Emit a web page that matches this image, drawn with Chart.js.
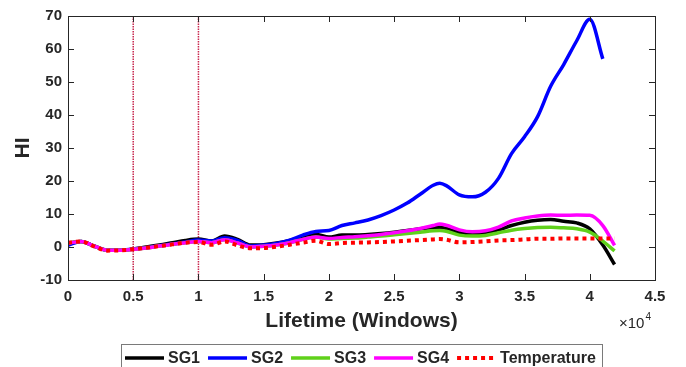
<!DOCTYPE html>
<html>
<head>
<meta charset="utf-8">
<script src="https://cdn.jsdelivr.net/npm/chart.js@4"></script>
<style>
  html, body { margin: 0; padding: 0; background: #fff; }
  canvas { display: block; }
</style>
</head>
<body>
<canvas id="hiChart" width="686" height="367"></canvas>
<script>
// lifetime in windows
const lifetime = [0, 1000, 2000, 3000, 4000, 5000, 6000, 7000, 8000, 9000, 10000, 11000, 12000, 13000, 14000,
  15000, 16000, 17000, 18000, 19000, 20000, 21000, 22000, 23000, 24000, 25000, 26000, 27000, 28000, 28500,
  29000, 30000, 31000, 32000, 33000, 34000, 35000, 36000, 37000, 38000, 39000, 40000, 41000, 41900];

const sg1 = [1.2, 1.7, 0.3, -1.0, -1.0, -0.6, 0.0, 0.6, 1.3, 2.0, 2.4, 1.8, 3.3, 2.3, 0.6,
  0.7, 1.2, 2.0, 3.1, 3.9, 3.0, 3.6, 3.6, 3.8, 4.1, 4.5, 5.0, 5.5, 5.9, 6.0,
  5.6, 4.4, 4.1, 4.4, 5.2, 6.5, 7.5, 8.1, 8.3, 7.8, 7.3, 5.5, 0.6, -5.3];
const sg2 = [0.5, 1.7, 0.3, -1.0, -1.0, -0.6, -0.2, 0.4, 0.9, 1.5, 2.1, 1.8, 2.8, 2.0, 0.3,
  0.6, 1.1, 2.1, 3.6, 4.7, 5.0, 6.5, 7.3, 8.2, 9.5, 11.2, 13.3, 16.0, 18.7, 19.3,
  18.6, 15.8, 15.2, 16.6, 20.8, 28.3, 33.4, 39.5, 48.7, 55.3, 62.5, 69.0, 57.0, null];
const sg3 = [1.2, 1.7, 0.3, -1.0, -1.0, -0.7, -0.3, 0.3, 0.8, 1.3, 1.7, 1.3, 2.2, 1.2, 0.0,
  0.2, 0.6, 1.3, 2.3, 3.0, 2.4, 2.6, 2.7, 3.0, 3.3, 3.7, 4.1, 4.5, 4.9, 5.0,
  4.8, 3.6, 3.3, 3.5, 4.3, 5.1, 5.6, 5.9, 6.0, 5.8, 5.5, 4.5, 1.8, -1.2];
const sg4 = [1.2, 1.7, 0.3, -1.0, -1.0, -0.7, -0.3, 0.3, 0.8, 1.3, 1.7, 1.3, 2.2, 1.2, 0.0,
  0.2, 0.6, 1.3, 2.3, 3.0, 2.6, 2.9, 3.1, 3.4, 3.8, 4.3, 4.9, 5.6, 6.5, 7.0,
  6.6, 5.2, 4.6, 4.9, 6.0, 7.9, 8.8, 9.4, 9.7, 9.6, 9.7, 9.6, 6.5, 0.5];
const temperature = [1.3, 1.7, 0.2, -1.1, -1.0, -0.7, -0.2, 0.3, 0.8, 1.3, 1.5, 0.7, 1.7, 0.5, -0.4,
  -0.3, 0.1, 0.7, 1.3, 1.9, 0.9, 1.2, 1.3, 1.4, 1.5, 1.7, 1.9, 2.1, 2.3, 2.4,
  2.2, 1.4, 1.5, 1.7, 2.0, 2.1, 2.3, 2.5, 2.5, 2.6, 2.6, 2.6, 2.6, 2.6];

// dotted vertical markers
const markers = [5000, 10000];

const xRange = [0, 45000];
const yRange = [-10, 70];

const textColor = '#262626';
Chart.defaults.font.family = '"Liberation Sans", Arial, sans-serif';
Chart.defaults.color = textColor;

const pts = (arr) => lifetime.map((x, i) => ({ x, y: arr[i] }));

const series = [
  { label: 'SG1', data: sg1, color: '#000000', dash: [], width: 3.5, order: 4 },
  { label: 'SG2', data: sg2, color: '#0000ff', dash: [], width: 3.5, order: 3 },
  { label: 'SG3', data: sg3, color: '#5fd11a', dash: [], width: 3.5, order: 2 },
  { label: 'SG4', data: sg4, color: '#ff00ff', dash: [], width: 3.5, order: 1 },
  { label: 'Temperature', data: temperature, color: '#ff0000', dash: [4, 4], width: 4, order: 0 }
];

const datasets = series.map(s => ({
  label: s.label,
  data: pts(s.data),
  borderColor: s.color,
  backgroundColor: s.color,
  borderWidth: s.width,
  borderDash: s.dash,
  pointRadius: 0,
  cubicInterpolationMode: 'monotone',
  spanGaps: false,
  order: s.order
}));

markers.forEach(m => {
  datasets.push({
    label: '_marker',
    data: [{ x: m, y: yRange[0] }, { x: m, y: yRange[1] }],
    borderColor: '#c8284f',
    borderWidth: 1.5,
    borderDash: [1.5, 1],
    pointRadius: 0,
    order: 9
  });
});

// box, inward ticks, x exponent and legend box
const matlabFrame = {
  id: 'matlabFrame',
  afterDraw(chart) {
    const { ctx, chartArea: a, scales: { x, y } } = chart;
    ctx.save();
    ctx.strokeStyle = textColor;
    ctx.lineWidth = 1;
    ctx.strokeRect(Math.round(a.left) + 0.5, Math.round(a.top) + 0.5,
      Math.round(a.right - a.left), Math.round(a.bottom - a.top));
    ctx.beginPath();
    x.ticks.forEach(t => {
      const px = Math.round(x.getPixelForValue(t.value)) + 0.5;
      ctx.moveTo(px, a.bottom); ctx.lineTo(px, a.bottom - 6);
      ctx.moveTo(px, a.top); ctx.lineTo(px, a.top + 6);
    });
    y.ticks.forEach(t => {
      const py = Math.round(y.getPixelForValue(t.value)) + 0.5;
      ctx.moveTo(a.left, py); ctx.lineTo(a.left + 6, py);
      ctx.moveTo(a.right, py); ctx.lineTo(a.right - 6, py);
    });
    ctx.stroke();

    // x10^4
    ctx.fillStyle = textColor;
    ctx.textBaseline = 'alphabetic';
    ctx.textAlign = 'left';
    ctx.font = '15px "Liberation Sans", Arial, sans-serif';
    const ex = a.right - 36;
    ctx.fillText('\u00d710', ex, a.bottom + 48);
    const w = ctx.measureText('\u00d710').width;
    ctx.font = '10px "Liberation Sans", Arial, sans-serif';
    ctx.fillText('4', ex + w + 1, a.bottom + 40);

    // legend
    ctx.font = 'bold 16px "Liberation Sans", Arial, sans-serif';
    const sample = 39, gapText = 4, gapItem = 8, pad = 4;
    let total = 0;
    series.forEach((s, i) => {
      total += sample + gapText + ctx.measureText(s.label).width + (i < series.length - 1 ? gapItem : 0);
    });
    const boxW = Math.round(total + pad * 2 + 2);
    const boxL = Math.round((a.left + a.right) / 2 - boxW / 2);
    const boxT = a.bottom + 64;
    const midY = boxT + 14;
    ctx.strokeStyle = '#7a7a7a';
    ctx.strokeRect(boxL + 0.5, boxT + 0.5, boxW, 30);
    let cx = boxL + pad;
    series.forEach(s => {
      ctx.beginPath();
      ctx.strokeStyle = s.color;
      ctx.lineWidth = s.width;
      ctx.setLineDash(s.dash);
      ctx.moveTo(cx, midY); ctx.lineTo(cx + sample, midY);
      ctx.stroke();
      ctx.setLineDash([]);
      cx += sample + gapText;
      ctx.fillStyle = textColor;
      ctx.textBaseline = 'middle';
      ctx.fillText(s.label, cx, midY + 1);
      cx += ctx.measureText(s.label).width + gapItem;
    });
    ctx.restore();
  }
};

new Chart(document.getElementById('hiChart'), {
  type: 'line',
  data: { datasets },
  options: {
    responsive: false,
    animation: false,
    devicePixelRatio: 1,
    layout: { padding: { top: 16, right: 31, left: 0, bottom: 0 } },
    plugins: { legend: { display: false }, tooltip: { enabled: false } },
    scales: {
      x: {
        type: 'linear',
        min: xRange[0],
        max: xRange[1],
        grid: { display: false, drawTicks: false },
        border: { display: false },
        ticks: {
          stepSize: 5000,
          padding: 8,
          maxRotation: 0,
          color: textColor,
          font: { size: 15, weight: 'bold' },
          callback: v => String(v / 10000)
        },
        title: {
          display: true,
          text: 'Lifetime (Windows)',
          color: textColor,
          font: { size: 21, weight: 'bold' },
          padding: { top: 0, bottom: 33 }
        },
        afterFit: s => { s.height = 87; }
      },
      y: {
        min: yRange[0],
        max: yRange[1],
        grid: { display: false, drawTicks: false },
        border: { display: false },
        ticks: {
          stepSize: 10,
          padding: 6,
          color: textColor,
          font: { size: 15, weight: 'bold' }
        },
        title: {
          display: true,
          text: 'HI',
          color: textColor,
          font: { size: 21, weight: 'bold' },
          padding: { top: 11, bottom: 0 }
        },
        afterFit: s => { s.width = 68; }
      }
    }
  },
  plugins: [matlabFrame]
});
</script>
</body>
</html>
